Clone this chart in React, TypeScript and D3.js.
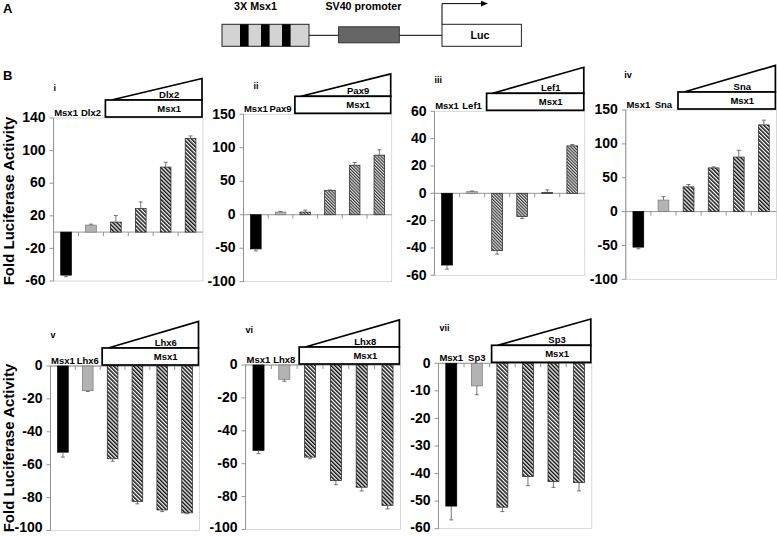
import React from 'react';
import * as d3 from 'd3';

const FONT = "'Liberation Sans', Arial, Helvetica, sans-serif";
const SVG_W = 777;
const SVG_H = 536;

// ---------- data ----------
const conditionCategories = ['Msx1', 'Partner', 'Msx1+Partner 1', 'Msx1+Partner 2', 'Msx1+Partner 3', 'Msx1+Partner 4'];
const panelIds = ['i', 'ii', 'iii', 'iv', 'v', 'vi', 'vii'];
const partnerGenes = ['Dlx2', 'Pax9', 'Lef1', 'Sna', 'Lhx6', 'Lhx8', 'Sp3'];

const valuesI = [-52.8, 8.6, 12.3, 29, 79.8, 115];
const errorsI = [2, 1.2, 8, 8, 6, 3];
const valuesII = [-51, 4, 4, 36, 74, 89];
const errorsII = [3, 1, 3, 1, 4, 8];
const valuesIII = [-52.5, 1.2, -42, -17, 0.5, 34.7];
const errorsIII = [3, 0.5, 2.5, 1.5, 2, 1];
const valuesIV = [-52.5, 17, 36.5, 64.5, 80.5, 128];
const errorsIV = [2.5, 5, 3.5, 1.5, 10, 7];
const valuesV = [-52.4, -15, -56.4, -82.3, -87.5, -89.3];
const errorsV = [3, 0.5, 1.5, 1.5, 1, 0.5];
const valuesVI = [-51.9, -8.7, -56, -70.3, -74.3, -85.3];
const errorsVI = [2, 1.2, 1, 2.5, 2.3, 2.2];
const valuesVII = [-51.8, -8.2, -52.2, -41.1, -42.9, -43.3];
const errorsVII = [5, 3.2, 1.6, 3.3, 2.1, 3];

const ticksI = [-60, -20, 20, 60, 100, 140];
const ticksII = [-100, -50, 0, 50, 100, 150];
const ticksIII = [-60, -40, -20, 0, 20, 40, 60];
const ticksIV = [-100, -50, 0, 50, 100, 150];
const ticksV = [-100, -80, -60, -40, -20, 0];
const ticksVI = [-100, -80, -60, -40, -20, 0];
const ticksVII = [-60, -50, -40, -30, -20, -10, 0];

const domains = [[-60, 140], [-100, 150], [-60, 60], [-100, 150], [-100, 0], [-100, 0], [-60, 0]];

const allValues = [valuesI, valuesII, valuesIII, valuesIV, valuesV, valuesVI, valuesVII];
const allErrors = [errorsI, errorsII, errorsIII, errorsIV, errorsV, errorsVI, errorsVII];
const allTicks = [ticksI, ticksII, ticksIII, ticksIV, ticksV, ticksVI, ticksVII];

const yAxisTitle = 'Fold Luciferase Activity';

// schematic labels
const constructLabels = ['3X Msx1', 'SV40 promoter', 'Luc'];
const msx1SiteCount = 3;

// ---------- layout (positions / sizes only) ----------
type Layout = { x0: number; x1: number; yTop: number; yBottom: number; triH: number; romanDx: number; romanDy: number; hatch: string };
const layouts: Layout[] = [
  { x0: 53.6, x1: 203, yTop: 118, yBottom: 281, triH: 21.5, romanDx: 0, romanDy: -30.5, hatch: 'hatchA' },
  { x0: 243.5, x1: 391.7, yTop: 114.3, yBottom: 281.7, triH: 22.4, romanDx: 10, romanDy: -28.6, hatch: 'hatchB' },
  { x0: 434.5, x1: 584.8, yTop: 111.3, yBottom: 275.3, triH: 26, romanDx: 0, romanDy: -31, hatch: 'hatchB' },
  { x0: 625.8, x1: 776.4, yTop: 110, yBottom: 279.3, triH: 26.6, romanDx: -1.5, romanDy: -35, hatch: 'hatchA' },
  { x0: 50.5, x1: 199.5, yTop: 366, yBottom: 530.5, triH: 26.6, romanDx: 0, romanDy: -31, hatch: 'hatchA' },
  { x0: 245.6, x1: 400.4, yTop: 365, yBottom: 529.5, triH: 27, romanDx: 0, romanDy: -35, hatch: 'hatchA' },
  { x0: 438.5, x1: 591.8, yTop: 363.3, yBottom: 528.7, triH: 26.3, romanDx: 1, romanDy: -35, hatch: 'hatchA' },
];

const Panel: React.FC<{ idx: number }> = ({ idx }) => {
  const L = layouts[idx];
  const values = allValues[idx];
  const errors = allErrors[idx];
  const ticks = allTicks[idx];
  const y = d3.scaleLinear().domain(domains[idx]).range([L.yBottom, L.yTop]);
  const x = d3.scaleBand<string>().domain(conditionCategories).range([L.x0, L.x1]).padding(0);
  const bw = x.bandwidth() * 0.43;
  const y0 = y(0);
  const boxLeft = (x(conditionCategories[2]) as number) + 2;
  const boxRight = L.x1 - 1;
  const boxBottom = L.yTop - 1;
  const boxTop = boxBottom - 17;
  const labelX = boxLeft + (boxRight - boxLeft) * 0.66;
  const fills = ['#000', '#b3b3b3', `url(#${L.hatch})`, `url(#${L.hatch})`, `url(#${L.hatch})`, `url(#${L.hatch})`];
  const strokes = ['#000', '#777', '#222', '#222', '#222', '#222'];
  return (
    <g>
      {/* plot frame */}
      <rect x={L.x0} y={L.yTop} width={L.x1 - L.x0} height={L.yBottom - L.yTop} fill="none" stroke="#cfcfcf" strokeWidth={0.8} />
      {/* y axis */}
      <line x1={L.x0} x2={L.x0} y1={L.yTop} y2={L.yBottom} stroke="#8a8a8a" strokeWidth={0.9} />
      {ticks.map((t) => (
        <g key={t}>
          <line x1={L.x0 - 4} x2={L.x0} y1={y(t)} y2={y(t)} stroke="#8a8a8a" strokeWidth={0.9} />
          <text x={L.x0 - 8} y={Math.min(y(t), SVG_H - 8)} dy="0.3em" textAnchor="end" fill="#000" fontFamily={FONT} fontWeight="bold" fontSize={14}>
            {t}
          </text>
        </g>
      ))}
      {/* zero line + category ticks */}
      <line x1={L.x0} x2={L.x1} y1={y0} y2={y0} stroke="#8a8a8a" strokeWidth={0.9} />
      {conditionCategories.slice(1).map((c) => (
        <line key={c} x1={x(c) as number} x2={x(c) as number} y1={y0} y2={y0 + 4} stroke="#8a8a8a" strokeWidth={0.9} />
      ))}
      {/* bars */}
      {values.map((v, i) => {
        const cx = (x(conditionCategories[i]) as number) + x.bandwidth() / 2;
        const yv = y(v);
        const ye = y(v + Math.sign(v || 1) * errors[i]);
        return (
          <g key={i}>
            <rect x={cx - bw / 2} y={Math.min(yv, y0)} width={bw} height={Math.max(Math.abs(yv - y0), 0.8)} fill={fills[i]} stroke={strokes[i]} strokeWidth={0.7} />
            <line x1={cx} x2={cx} y1={yv} y2={ye} stroke="#555" strokeWidth={0.8} />
            <line x1={cx - 2} x2={cx + 2} y1={ye} y2={ye} stroke="#555" strokeWidth={0.8} />
          </g>
        );
      })}
      {/* condition labels */}
      {['Msx1', partnerGenes[idx]].map((lab, i) => (
        <text key={i} x={(x(conditionCategories[i]) as number) + x.bandwidth() / 2} y={L.yTop - 2} textAnchor="middle" fill="#000" fontFamily={FONT} fontWeight="bold" fontSize={9.5}>
          {lab}
        </text>
      ))}
      {/* dosage triangle and Msx1 box */}
      <polygon points={`${boxLeft + 6},${boxTop} ${boxRight},${boxTop - L.triH} ${boxRight},${boxTop}`} fill="#fff" stroke="#000" strokeWidth={1.7} strokeLinejoin="miter" />
      <rect x={boxLeft} y={boxTop} width={boxRight - boxLeft} height={boxBottom - boxTop} fill="#fff" stroke="#000" strokeWidth={1.7} />
      <text x={labelX} y={boxTop - 2.5} textAnchor="middle" fill="#000" fontFamily={FONT} fontWeight="bold" fontSize={9.5}>
        {partnerGenes[idx]}
      </text>
      <text x={labelX} y={(boxTop + boxBottom) / 2} dy="0.36em" textAnchor="middle" fill="#000" fontFamily={FONT} fontWeight="bold" fontSize={9.5}>
        Msx1
      </text>
      <text x={L.x0 + L.romanDx} y={L.yTop + L.romanDy + 3} fill="#000" fontFamily={FONT} fontWeight="bold" fontSize={9}>
        {panelIds[idx]}
      </text>
    </g>
  );
};

const Schematic: React.FC = () => {
  const b1 = { x: 222, y: 24.3, w: 87, h: 22 };
  const b2 = { x: 338.6, y: 26.8, w: 60.7, h: 16 };
  const b3 = { x: 442, y: 24.3, w: 79.4, h: 22 };
  const midY = b1.y + b1.h / 2;
  const siteW = 8.6;
  const sitePos = d3.range(msx1SiteCount).map((k) => b1.x + 18 + k * 21);
  return (
    <g>
      <text x={3} y={13} fill="#000" fontFamily={FONT} fontWeight="bold" fontSize={13}>A</text>
      <text x={3} y={80} fill="#000" fontFamily={FONT} fontWeight="bold" fontSize={13}>B</text>
      <text x={b1.x + b1.w / 2 - 10} y={9.5} textAnchor="middle" fill="#000" fontFamily={FONT} fontWeight="bold" fontSize={10.7}>{constructLabels[0]}</text>
      <text x={b2.x + b2.w / 2 - 5.5} y={9.5} textAnchor="middle" fill="#000" fontFamily={FONT} fontWeight="bold" fontSize={10.7}>{constructLabels[1]}</text>
      <line x1={b1.x + b1.w} x2={b3.x} y1={midY} y2={midY} stroke="#000" strokeWidth={1} />
      <rect x={b1.x} y={b1.y} width={b1.w} height={b1.h} fill="#d3d3d3" stroke="#222" strokeWidth={1} />
      {sitePos.map((sx) => (
        <rect key={sx} x={sx} y={b1.y} width={siteW} height={b1.h} fill="#000" />
      ))}
      <rect x={b2.x} y={b2.y} width={b2.w} height={b2.h} fill="#666" stroke="#333" strokeWidth={1} />
      <rect x={b3.x} y={b3.y} width={b3.w} height={b3.h} fill="#fff" stroke="#222" strokeWidth={1} />
      <text x={b3.x + 38} y={midY} dy="0.36em" textAnchor="middle" fill="#000" fontFamily={FONT} fontWeight="bold" fontSize={10.7}>{constructLabels[2]}</text>
      <polyline points={`${b3.x},${b3.y} ${b3.x},3.6 ${b3.x + 41},3.6`} fill="none" stroke="#000" strokeWidth={1} />
      <polygon points={`${b3.x + 46},3.6 ${b3.x + 39},0.8 ${b3.x + 39},6.4`} fill="#000" />
    </g>
  );
};

export default function App() {
  return (
    <svg width={SVG_W} height={SVG_H} style={{ position: 'absolute', left: 0, top: 0, background: '#fff' }}>
      <defs>
        <pattern id="hatchA" width={2.8} height={2.8} patternUnits="userSpaceOnUse" patternTransform="rotate(-45)">
          <rect width={2.8} height={2.8} fill="#fff" />
          <rect x={0} y={0} width={1.5} height={2.8} fill="#111" />
        </pattern>
        <pattern id="hatchB" width={2.2} height={2.2} patternUnits="userSpaceOnUse" patternTransform="rotate(-45)">
          <rect width={2.2} height={2.2} fill="#e6e6e6" />
          <rect x={0} y={0} width={1.1} height={2.2} fill="#333" />
        </pattern>
      </defs>
      <rect width={SVG_W} height={SVG_H} fill="#fff" />
      <Schematic />
      {layouts.map((_, i) => (
        <Panel key={i} idx={i} />
      ))}
      <text transform={`translate(13.5,201) rotate(-90)`} textAnchor="middle" fill="#000" fontFamily={FONT} fontWeight="bold" fontSize={15}>{yAxisTitle}</text>
      <text transform={`translate(13.5,448) rotate(-90)`} textAnchor="middle" fill="#000" fontFamily={FONT} fontWeight="bold" fontSize={15}>{yAxisTitle}</text>
    </svg>
  );
}
